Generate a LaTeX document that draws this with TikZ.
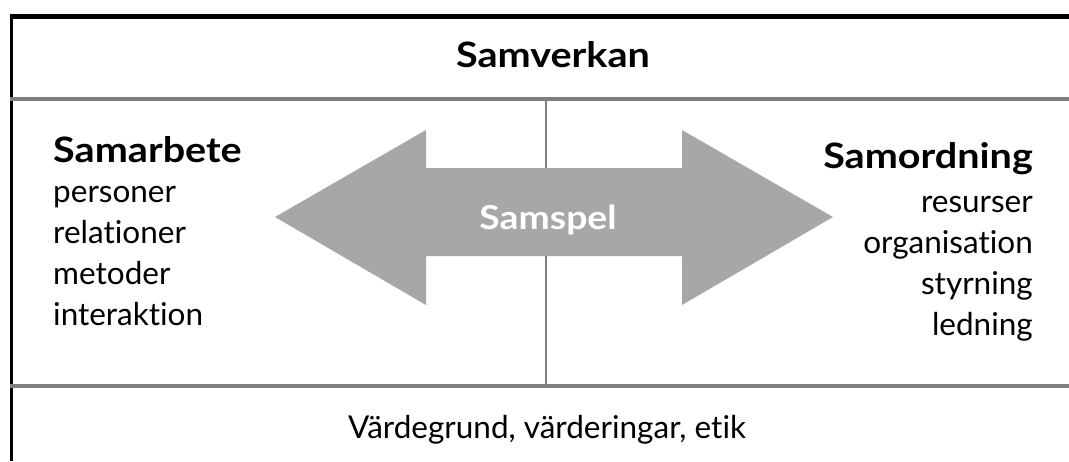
\documentclass[tikz,border=0pt]{standalone}
\usepackage{fontspec}
\setmainfont{Lato}[Ligatures=NoCommon]
\newfontfamily\headfont{Lato}[FakeStretch=1.13,Ligatures=NoCommon]
\definecolor{rulegray}{RGB}{125,127,128}
\definecolor{arrowgray}{RGB}{166,167,169}
\begin{document}
\begin{tikzpicture}[x=1pt,y=-1pt,
  txt/.style={inner sep=0pt,font=\fontsize{31.5}{31.5}\selectfont},
  head/.style={inner sep=0pt,font=\fontsize{35}{35}\selectfont\headfont\bfseries},
  frame/.style={line width=5pt,black},
  sideframe/.style={line width=3pt,black},
  divider/.style={line width=4pt,rulegray},
  midline/.style={line width=2pt,rulegray}]
\useasboundingbox (0,0) rectangle (1069,461);
\fill[white] (0,0) rectangle (1069,461);
% vertical middle line
\coordinate (vt) at (546,99);
\coordinate (vb) at (546,386);
\draw[midline] (vt) -- (vb);
% double arrow
\fill[arrowgray] (275,217) -- (426,130) -- (426,168) -- (682,168) -- (682,130)
  -- (833,217) -- (682,305) -- (682,256) -- (426,256) -- (426,305) -- cycle;
\node[inner sep=0pt,font=\fontsize{33}{33}\selectfont\headfont\bfseries,text=white,anchor=base] (samspel) at (548,229) {Samspel};
% frame
\coordinate (tl) at (10,16);
\coordinate (tr) at (1069,16);
\coordinate (lt) at (11.5,14);
\coordinate (lb) at (11.5,461);
\draw[frame] (tl) -- (tr);
\draw[sideframe] (lt) -- (lb);
\coordinate (d1l) at (10,99);
\coordinate (d1r) at (1069,99);
\coordinate (d2l) at (10,386);
\coordinate (d2r) at (1069,386);
\draw[divider] (d1l) -- (d1r);
\draw[divider] (d2l) -- (d2r);
% texts
\node[head,anchor=base] (samverkan) at (553,67) {Samverkan};
\node[head,anchor=base west] (samarbete) at (53,162) {Samarbete};
\node[txt,anchor=base west] (l1) at (53,202) {personer};
\node[txt,anchor=base west] (l2) at (53,243) {relationer};
\node[txt,anchor=base west] (l3) at (53,284) {metoder};
\node[txt,anchor=base west] (l4) at (53,325) {interaktion};
\node[head,anchor=base east] (samordning) at (1033,168) {Samordning};
\node[txt,anchor=base east] (r1) at (1033,212) {resurser};
\node[txt,anchor=base east] (r2) at (1033,253) {organisation};
\node[txt,anchor=base east] (r3) at (1033,294) {styrning};
\node[txt,anchor=base east] (r4) at (1033,335) {ledning};
\node[txt,anchor=base] (bottom) at (547,438) {Värdegrund, värderingar, etik};
\end{tikzpicture}
\end{document}
